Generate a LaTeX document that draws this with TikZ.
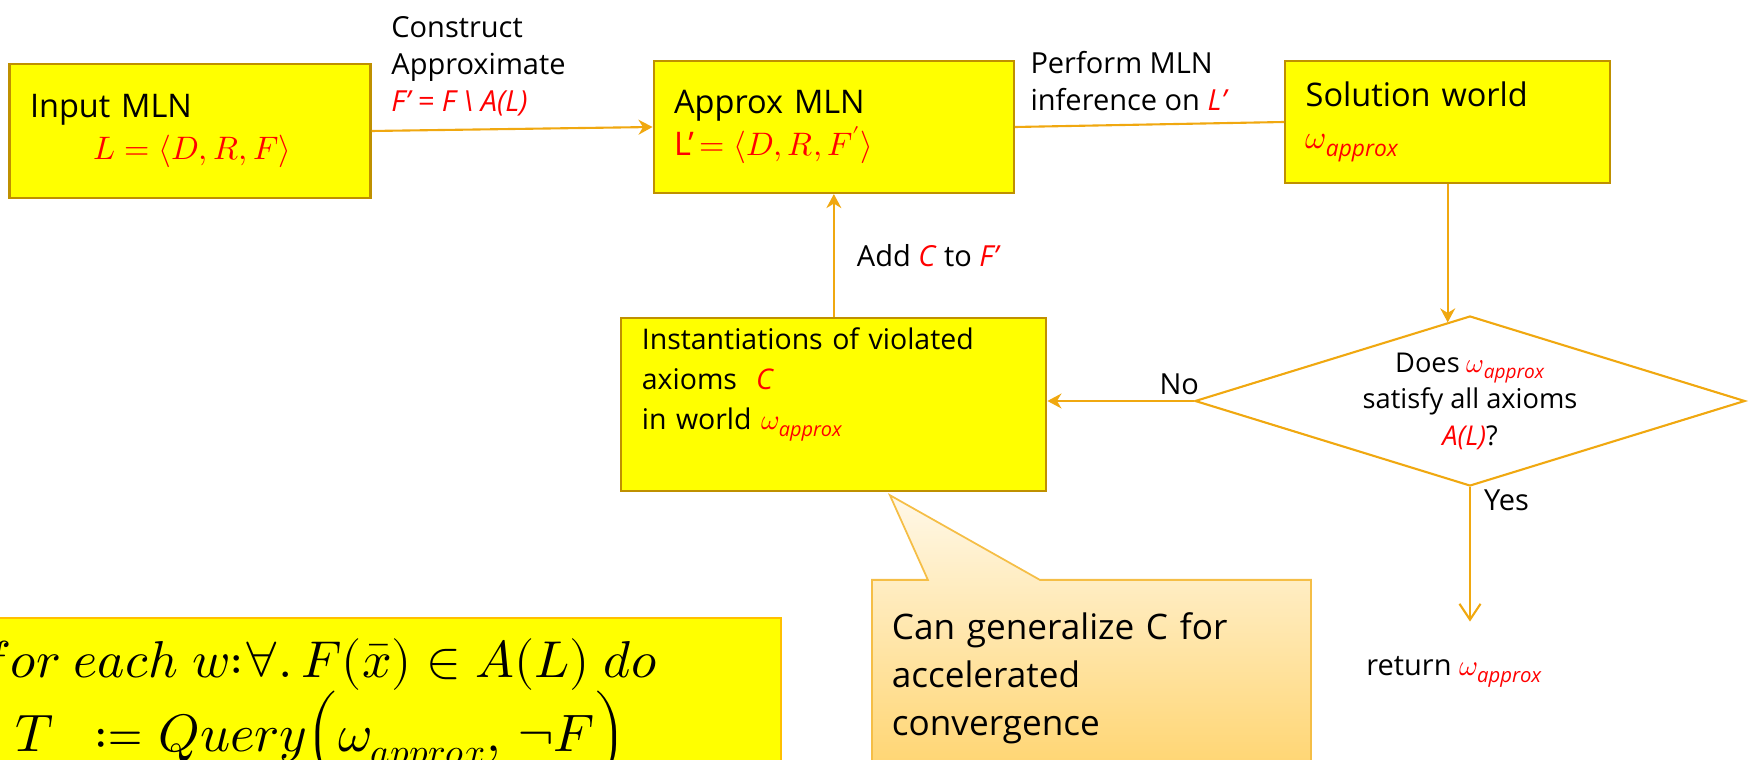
\documentclass[tikz,border=0pt]{standalone}
\usepackage{amsmath}
\usepackage{unicode-math}
\setmainfont{Open Sans}
\usepackage{tikz}
\usetikzlibrary{
  shapes.geometric,
  shapes.callouts,
  arrows.meta,
  positioning,
  calc
}
\definecolor{mlnyellow}{RGB}{255,255,0}
\definecolor{mlnedge}{RGB}{191,144,0}
\definecolor{mlnorange}{RGB}{240,168,16}
\definecolor{mlngold}{RGB}{255,192,0}
\definecolor{mlnred}{RGB}{255,0,0}
\definecolor{calltop}{RGB}{255,248,232}
\definecolor{callbot}{RGB}{255,212,110}
\definecolor{calledge}{RGB}{245,190,70}

\newcommand{\wapx}{\textcolor{mlnred}{$\omega_{\textit{approx}}$}}
\newcommand{\rd}[1]{\textcolor{mlnred}{\textit{#1}}}

\begin{document}
\begin{tikzpicture}[
  box/.style={
    rectangle, draw=mlnedge, fill=mlnyellow, line width=1.2pt,
    inner xsep=0.41cm, align=left,
    font=\fontsize{18.5}{23.5}\selectfont
  },
  lbl/.style={inner sep=0pt, align=left, text=black, font=\fontsize{16.5}{21}\selectfont},
  flow/.style={-{Stealth[length=8pt,width=8.5pt]}, line width=1.2pt, mlnorange},
  link/.style={line width=1.2pt, mlnorange},
  algline/.style={anchor=base west, inner sep=0pt, font=\fontsize{30}{36}\selectfont}
]
  \useasboundingbox (0,0) rectangle (35.04,15.18);
  \clip (0,0) rectangle (35.04,15.18);

  % main flow boxes
  \node[box, minimum width=7.22cm, minimum height=2.68cm, text width=6.4cm] (inp) at (3.8,12.56)
    {Input MLN\\ \hspace*{1.27cm}\textcolor{mlnred}{$L=\langle D,R,F\rangle$}};
  \node[box, minimum width=7.21cm, minimum height=2.64cm, text width=6.39cm,
        right=5.62cm of inp, yshift=0.08cm] (apx)
    {Approx MLN\\ \textcolor{mlnred}{L’$\,=\langle D,R,F'\rangle$}};
  \node[box, minimum width=6.5cm, minimum height=2.44cm, text width=5.68cm,
        right=5.38cm of apx, yshift=0.1cm] (sol)
    {Solution world\\ \wapx};
  \node[box, minimum width=8.5cm, minimum height=3.46cm, text width=7.68cm,
        font=\fontsize{16.2}{22.8}\selectfont, below=2.46cm of apx] (inst)
    {Instantiations of violated\\ axioms\ \ \rd{C}\\ in world \wapx\\ \strut};

  % decision
  \node[diamond, draw=mlnorange, line width=1.2pt, inner sep=0pt,
        minimum width=11cm, minimum height=3.4cm] (dec) at (29.4,7.16) {};
  \node[align=center, font=\fontsize{15.5}{20.8}\selectfont] (dectxt) at (dec.center)
    {Does \wapx\\ satisfy all axioms\\ \rd{A(L)}?};

  \node[lbl, anchor=base west] (ret) at (27.32,1.68) {return \wapx};

  % connectors and their labels
  \draw[flow] (inp.east) -- (apx.west);
  \node[lbl, above right=0.3cm and 0.39cm of inp.east] (cnstr)
    {Construct\\ Approximate\\ \rd{F’ = F \textbackslash{} A(L)}};

  \draw[link] (apx.east) -- (sol.west);
  \node[lbl, above right=0.32cm and 0.3cm of apx.east] (perf)
    {Perform MLN\\ inference on \rd{L’}};

  \draw[flow] (sol.south) -- (sol.south |- dec.107);

  \draw[flow] (dec.west) -- (dec.west -| inst.east)
    node[pos=0, lbl, anchor=south east, xshift=0.12cm, yshift=0.1cm] (no) {No};

  \draw[flow] (inst.north) -- (apx.south)
    node[midway, lbl, right=0.44cm] (addc) {Add \rd{C} to \rd{F’}};

  \draw[link, -{Straight Barb[length=9pt,width=12pt]}, shorten >=0.68cm]
    (dec.south) -- (dec.south |- ret.north)
    node[pos=0, lbl, anchor=north west, xshift=0.26cm, yshift=-0.04cm] (yes) {Yes};

  % note on generalizing C
  \node[rectangle callout, anchor=north west,
        callout absolute pointer={($(inst.south)+(1.12,-0.06)$)},
        callout pointer width=2.24cm,
        draw=calledge, line width=1pt, top color=calltop, bottom color=callbot,
        text width=7.98cm, inner xsep=0.4cm, inner ysep=0.66cm, align=left,
        font=\fontsize{20}{27.3}\selectfont] (note) at (17.42,3.6)
    {Can generalize C for\\ accelerated\\ convergence};

  % query loop
  \node[draw=mlngold, fill=mlnyellow, line width=1.2pt, anchor=north west,
        minimum width=16cm, minimum height=4cm] (algo) at (-0.4,2.84) {};
  \node[algline, font=\fontsize{29.5}{36}\selectfont] (forln) at (-0.4,1.62)
    {$for\ each\ w{:}\forall.\,F(\bar{x})\in A(L)\ do$};
  \node[algline] (qln) at (0.3,0.16)
    {$T\ \ \coloneq Query\Bigl(\omega_{approx},\,\neg F\Bigr)$};
\end{tikzpicture}
\end{document}
